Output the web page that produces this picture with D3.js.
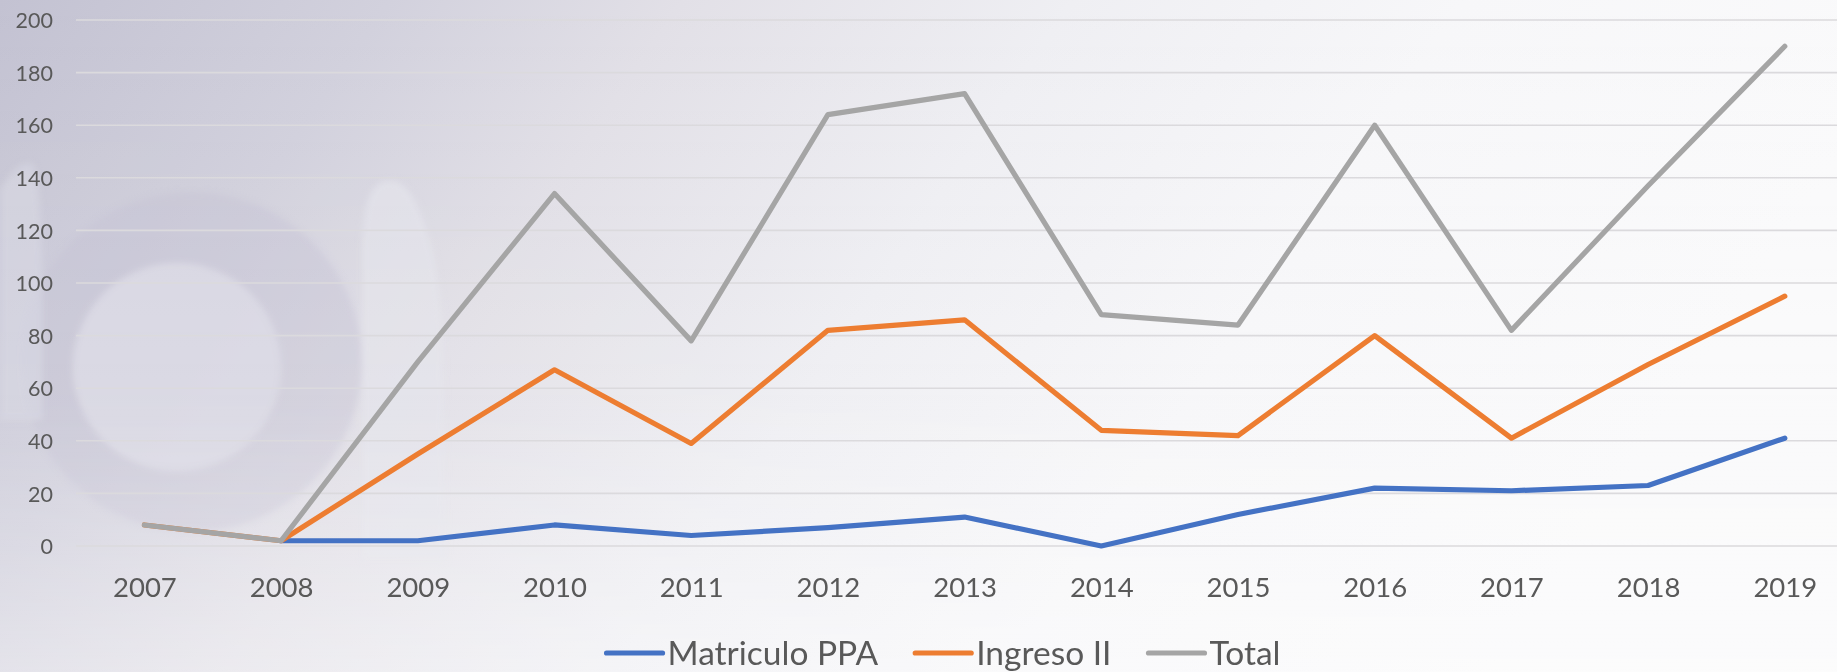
<!DOCTYPE html>
<html>
<head>
<meta charset="utf-8">
<script src="https://cdn.jsdelivr.net/npm/d3@7"></script>
<style>
  html, body { margin: 0; padding: 0; background: #f7f7f9; }
  svg { display: block; }
</style>
</head>
<body>
<svg id="chart" width="1837" height="672"></svg>
<script>
// ---- Data ----
const years = ["2007","2008","2009","2010","2011","2012","2013","2014","2015","2016","2017","2018","2019"];
const matriculoPPA = [null, 2, 2, 8, 4, 7, 11, 0, 12, 22, 21, 23, 41];
const ingresoII   = [8, 2, 35, 67, 39, 82, 86, 44, 42, 80, 41, 69, 95];
const total       = [8, 2, 70, 134, 78, 164, 172, 88, 84, 160, 82, 137, 190];
const yTicks = [0, 20, 40, 60, 80, 100, 120, 140, 160, 180, 200];
const seriesNames = ["Matriculo PPA", "Ingreso II", "Total"];
const seriesColors = ["#4472C4", "#ED7D31", "#A5A5A5"];

const W = 1837, H = 672;
const svg = d3.select("#chart");
const defs = svg.append("defs");

// ---- Background ----
const bg = defs.append("linearGradient").attr("id", "bgGrad")
  .attr("x1", "0").attr("y1", "0").attr("x2", "1").attr("y2", "0.25");
[["0", "#c3c2d2"], ["0.2", "#d2d1dd"], ["0.35", "#e2e0e7"], ["0.55", "#efeff3"], ["0.75", "#f7f7f9"], ["1", "#fafafb"]]
  .forEach(([o, c]) => bg.append("stop").attr("offset", o).attr("stop-color", c));
const bgV = defs.append("linearGradient").attr("id", "bgV")
  .attr("x1", "0").attr("y1", "0").attr("x2", "0").attr("y2", "1");
bgV.append("stop").attr("offset", "0").attr("stop-color", "#ffffff").attr("stop-opacity", 0);
bgV.append("stop").attr("offset", "0.6").attr("stop-color", "#ffffff").attr("stop-opacity", 0.05);
bgV.append("stop").attr("offset", "1").attr("stop-color", "#ffffff").attr("stop-opacity", 0.35);

svg.append("rect").attr("width", W).attr("height", H).attr("fill", "url(#bgGrad)");

const blur = defs.append("filter").attr("id", "soft").attr("x", "-20%").attr("y", "-20%").attr("width", "140%").attr("height", "140%");
blur.append("feGaussianBlur").attr("stdDeviation", 3);

const deco = svg.append("g").attr("filter", "url(#soft)");
// darker ring
deco.append("circle").attr("cx", 192).attr("cy", 362).attr("r", 170)
  .attr("fill", "#c2c1d1").attr("opacity", 0.4);
// inner light disc
deco.append("circle").attr("cx", 177).attr("cy", 367).attr("r", 104)
  .attr("fill", "#dcdbe5").attr("opacity", 0.85);
// tall light pill
deco.append("path")
  .attr("d", "M362,250 C362,200 372,180 390,180 C420,180 440,260 443,330 L446,560 L362,560 Z")
  .attr("fill", "#e4e4eb").attr("opacity", 0.7);
// left light shape
deco.append("path")
  .attr("d", "M0,190 C10,170 25,160 32,164 C40,170 42,230 42,300 L42,420 L0,420 Z")
  .attr("fill", "#d6d5e1").attr("opacity", 0.7);
svg.append("rect").attr("width", W).attr("height", H).attr("fill", "url(#bgV)");

// ---- Scales ----
const x = d3.scalePoint().domain(years).range([144.4, 1784.8]);
const y = d3.scaleLinear().domain([0, 200]).range([546, 20]);
const plotLeft = 76, plotRight = W;

// ---- Gridlines ----
svg.append("g").selectAll("line").data(yTicks).join("line")
  .attr("x1", plotLeft).attr("x2", plotRight)
  .attr("y1", d => y(d)).attr("y2", d => y(d))
  .attr("stroke", "#dbdadd").attr("stroke-width", 1.6);

// ---- Axes ----
const font = "Lato, 'Open Sans', sans-serif";
const yAxis = svg.append("g").attr("transform", "translate(53,0)")
  .call(d3.axisLeft(y).tickValues(yTicks).tickSize(0).tickPadding(0));
yAxis.select(".domain").remove();
yAxis.selectAll("text").attr("font-family", font).attr("font-size", 21.5)
  .attr("fill", "#595959").attr("dy", "0.36em");

const xAxis = svg.append("g").attr("transform", "translate(0,587)")
  .call(d3.axisBottom(x).tickSize(0).tickPadding(0));
xAxis.select(".domain").remove();
xAxis.selectAll("text").attr("font-family", font).attr("font-size", 27.5)
  .attr("fill", "#595959").attr("dy", "0.36em");

// ---- Lines ----
const seriesData = [matriculoPPA, ingresoII, total];
const line = d3.line()
  .defined(d => d.v !== null)
  .x(d => x(d.year)).y(d => y(d.v));
seriesData.forEach((vals, i) => {
  const pts = years.map((yr, j) => ({ year: yr, v: vals[j] }));
  svg.append("path").datum(pts)
    .attr("d", line)
    .attr("fill", "none")
    .attr("stroke", seriesColors[i])
    .attr("stroke-width", 5.2)
    .attr("stroke-linejoin", "round")
    .attr("stroke-linecap", "round");
});

// ---- Legend ----
const legend = svg.append("g");
const legY = 653;
let cursor = 0;
seriesNames.forEach((name, i) => {
  const g = legend.append("g");
  g.append("line").attr("x1", 0).attr("x2", 56).attr("y1", 0).attr("y2", 0)
    .attr("stroke", seriesColors[i]).attr("stroke-width", 5.2).attr("stroke-linecap", "round");
  const t = g.append("text").attr("x", 61).attr("y", 0).attr("dy", "0.36em")
    .attr("font-family", font).attr("font-size", 33.5).attr("fill", "#595959").text(name);
  const w = 61 + t.node().getComputedTextLength();
  g.attr("transform", `translate(${cursor},${legY})`);
  cursor += w + 37;
});
const legendWidth = cursor - 37;
legend.attr("transform", `translate(${943.5 - legendWidth / 2},0)`);
</script>
</body>
</html>
